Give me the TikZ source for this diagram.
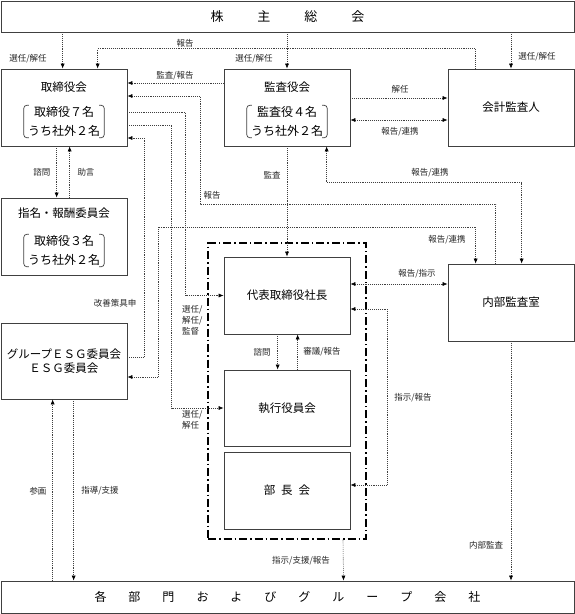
\documentclass[tikz,border=0pt]{standalone}
\usepackage{fontspec}
\newfontfamily\jp{Noto Sans CJK JP}
\usetikzlibrary{arrows.meta}
\tikzset{
    box/.style={draw=black!75, line width=.7pt, minimum width=126pt, minimum height=77pt, inner sep=0pt, align=center, font=\jp\fontsize{11.5}{14}\selectfont},
    ttl/.style={font=\jp\fontsize{11.5}{14}\selectfont, inner sep=0pt},
    mem/.style={font=\jp\fontsize{12}{19}\selectfont, align=center, inner sep=0pt},
    lbl/.style={font=\jp\fontsize{8.5}{11}\selectfont, text=black!85, inner sep=0pt},
    con/.style={black!75, line width=.6pt, dash pattern=on .8pt off 1.1pt},
    arr/.style={con, -{Latex[length=5pt,width=4pt,black]}},
    arrs/.style={con, {Latex[length=5pt,width=4pt,black]}-{Latex[length=5pt,width=4pt,black]}},
    brk/.style={black!75, line width=.7pt, rounded corners=3pt},
    frm/.style={draw=black, line width=1.4pt, dash pattern=on 8pt off 3pt on 1.5pt off 3pt, minimum width=158pt, minimum height=296pt, inner sep=0pt},
}
\newcommand\membrk[1]{%
    \draw[brk] ([xshift=1pt,yshift=1pt]#1.north west) -- ([xshift=-4pt,yshift=1pt]#1.north west)
        -- ([xshift=-4pt,yshift=-1pt]#1.south west) -- ([xshift=1pt,yshift=-1pt]#1.south west);
    \draw[brk] ([xshift=-1pt,yshift=1pt]#1.north east) -- ([xshift=4pt,yshift=1pt]#1.north east)
        -- ([xshift=4pt,yshift=-1pt]#1.south east) -- ([xshift=-1pt,yshift=-1pt]#1.south east);
}

\begin{document}
\begin{tikzpicture}[x=1pt, y=-1pt]
    \useasboundingbox (0,0) rectangle (575,614);

    % boxes
    \node[box, minimum width=573pt, minimum height=31pt, font=\jp\fontsize{13}{15}\selectfont] (gm) at (287.5,16.5) {株\hspace{34pt}主\hspace{34pt}総\hspace{34pt}会};
    \node[box] (tor) at (64,107.5) {};
    \node[ttl] (tor-t) at ([yshift=20.5pt]tor.center) {取締役会};
    \node[mem] (tor-m) at ([yshift=-14pt]tor.center) {取締役７名\\うち社外２名};
    \membrk{tor-m}
    \node[box] (kan) at (287,107.5) {};
    \node[ttl] (kan-t) at ([yshift=20.5pt]kan.center) {監査役会};
    \node[mem] (kan-m) at ([yshift=-14pt]kan.center) {監査役４名\\うち社外２名};
    \membrk{kan-m}
    \node[box] (kai) at (511,107.5) {会計監査人};
    \node[box] (nom) at (64,236.5) {};
    \node[ttl] (nom-t) at ([yshift=23.5pt]nom.center) {指名・報酬委員会};
    \node[mem] (nom-m) at ([yshift=-14pt]nom.center) {取締役３名\\うち社外２名};
    \membrk{nom-m}
    \node[box, minimum height=76pt] (esg) at (64,361) {グループＥＳＧ委員会\\ＥＳＧ委員会};
    \node[box] (pres) at (287,295.5) {代表取締役社長};
    \node[box] (nai) at (511,302.5) {内部監査室};
    \node[box, minimum height=76pt] (exe) at (287,408) {執行役員会};
    \node[box] (bucho) at (287,490.5) {部\hspace{6pt}長\hspace{6pt}会};
    \node[frm] (frame) at (287,391) {};
    \node[box, minimum width=573pt, minimum height=32pt, font=\jp\fontsize{12}{14}\selectfont] (grp) at (287.5,597)
        {各\hspace{22pt}部\hspace{22pt}門\hspace{22pt}お\hspace{22pt}よ\hspace{22pt}び\hspace{22pt}グ\hspace{22pt}ル\hspace{22pt}ー\hspace{22pt}プ\hspace{22pt}会\hspace{22pt}社};

    % connectors
    \draw[arr] ([xshift=62pt]gm.south west) -- ([xshift=62pt]tor.north west);
    \draw[arr] (gm.south -| kan.north) -- (kan.north);
    \draw[arr] (gm.south -| kai.north) -- (kai.north);
    \draw[arr] ([xshift=28pt]kai.north west) -- ++(0,-20) -| ([xshift=97pt]tor.north west);
    \draw[arr] ([yshift=24.5pt]kan.west) -- ([yshift=24.5pt]tor.east);
    \draw[arr] ([xshift=48pt]nai.north west) |- (200,204) |- ([yshift=11.5pt]tor.east);
    \draw[arr] ([yshift=-4.5pt]tor.east) -| ([xshift=-38pt]pres.west) -- (pres.west);
    \draw[arr] ([yshift=-17.5pt]tor.east) -| ([xshift=-52pt]exe.west) -- (exe.west);
    \draw[arr] ([yshift=4pt]esg.east) -| ([xshift=17pt,yshift=-30.5pt]tor.east) -- ([yshift=-30.5pt]tor.east);
    \draw[arrs] ([yshift=-16pt]esg.east) -| (158,227) -| ([xshift=28pt]nai.north west);
    \draw[arrs] ([xshift=103pt]kan.south west) |- ([xshift=74pt,yshift=81pt]nai.north west) -- ([xshift=74pt]nai.north west);
    \draw[arr] (kan.south) -- (kan.south |- pres.north);
    \draw[arr] ([yshift=9.5pt]kan.east) -- ([yshift=9.5pt]kai.west);
    \draw[arrs] ([yshift=-12.5pt]kan.east) -- ([yshift=-12.5pt]kai.west);
    \draw[arr] ([xshift=56pt]tor.south west) -- ([xshift=56pt]nom.north west);
    \draw[arr] ([xshift=69pt]nom.north west) -- ([xshift=69pt]tor.south west);
    \draw[arr] ([xshift=52pt]grp.north west) -- ([xshift=52pt]esg.south west);
    \draw[arr] ([xshift=73pt]esg.south west) -- ([xshift=73pt]grp.north west);
    \draw[arrs] ([yshift=11.5pt]pres.east) -- ([yshift=18.5pt]nai.west);
    \draw[arrs] ([yshift=-13.5pt]pres.east) -| ([xshift=37pt,yshift=5.5pt]bucho.east) -- ([yshift=5.5pt]bucho.east);
    \draw[arr] ([xshift=54pt]pres.south west) -- ([xshift=54pt]exe.north west);
    \draw[arr] ([xshift=74pt]exe.north west) -- ([xshift=74pt]pres.south west);
    \draw[arr] ([xshift=56pt]frame.south) -- ([xshift=56pt]grp.north);
    \draw[arr] (nai.south) -- (nai.south |- grp.north);

    % labels
    \node[lbl] (l-sel1) at (28,59) {選任/解任};
    \node[lbl] (l-sel2) at (254,59) {選任/解任};
    \node[lbl] (l-sel3) at (537,57) {選任/解任};
    \node[lbl] (l-rep1) at (185,43) {報告};
    \node[lbl] (l-aud1) at (175,76) {監査/報告};
    \node[lbl] (l-rep2) at (212,195) {報告};
    \node[lbl] (l-kaizen) at (115,303) {改善策具申};
    \node[lbl, align=left, anchor=west] (l-sel4) at (182,320) {選任/\\解任/\\監督};
    \node[lbl, align=left, anchor=west] (l-sel5) at (182,420) {選任/\\解任};
    \node[lbl] (l-con1) at (42,172) {諮問};
    \node[lbl] (l-adv) at (86,172) {助言};
    \node[lbl] (l-aud2) at (272,175) {監査};
    \node[lbl] (l-dis) at (400,89) {解任};
    \node[lbl] (l-rc1) at (400,132) {報告/連携};
    \node[lbl] (l-rc2) at (430,173) {報告/連携};
    \node[lbl] (l-rc3) at (447,240) {報告/連携};
    \node[lbl] (l-ri) at (417,274) {報告/指示};
    \node[lbl] (l-con2) at (262,352) {諮問};
    \node[lbl] (l-del) at (322,352) {審議/報告};
    \node[lbl] (l-ir) at (413,398) {指示/報告};
    \node[lbl] (l-par) at (38,491) {参画};
    \node[lbl] (l-gs) at (100,491) {指導/支援};
    \node[lbl] (l-isr) at (301,561) {指示/支援/報告};
    \node[lbl] (l-ia) at (486,545) {内部監査};
\end{tikzpicture}
\end{document}
